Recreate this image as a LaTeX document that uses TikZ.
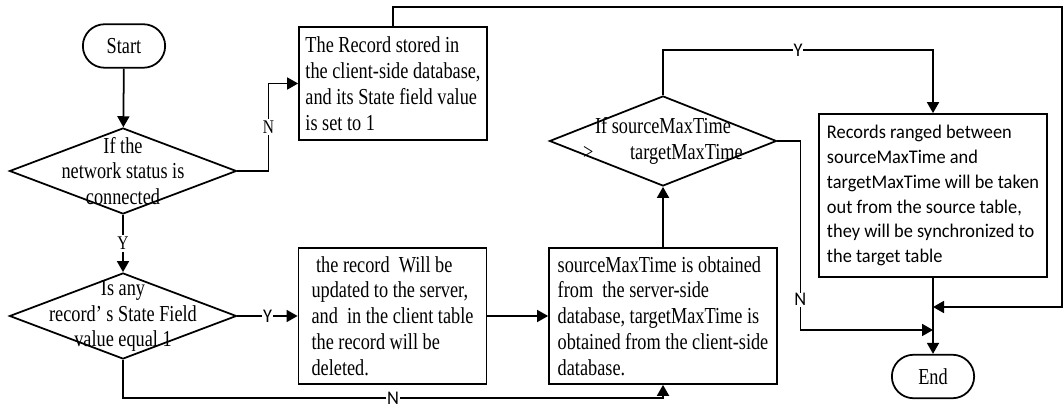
\documentclass[tikz,border=0pt]{standalone}
\usepackage{fontspec}
\setmainfont{Liberation Serif}[FakeStretch=0.8]
\newfontfamily\labelfont{Carlito}[FakeStretch=0.95]
\usepackage{tikz}
\usetikzlibrary{shapes.geometric,shapes.misc,arrows.meta}

\newcommand{\flowfont}{\fontsize{13}{14.7}\selectfont}
\newcommand{\notefont}{\labelfont\fontsize{11}{14.2}\selectfont}

\tikzset{
    terminal/.style={draw, line width=1pt, rounded rectangle, minimum width=18.8mm, minimum height=8.7mm, font=\flowfont},
    process/.style={draw, line width=1pt, rectangle, inner sep=0.6mm, align=left, font=\flowfont},
    decision/.style={draw, line width=1pt, diamond, minimum width=45.4mm, minimum height=17.2mm, inner sep=0pt},
    dtext/.style={align=center, inner sep=0pt, font=\flowfont},
    yn/.style={fill=white, inner sep=1pt, font=\fontsize{11}{12}\selectfont},
    yns/.style={fill=white, inner sep=0.5pt, font=\labelfont\fontsize{11}{12}\selectfont},
    flow/.style={line width=1pt, -{Triangle[length=2.2mm,width=2.4mm]}}
}

\begin{document}
\begin{tikzpicture}[x=0.2mm, y=-0.2mm]
    % Frame of the page (pixel grid, y pointing down):
    \useasboundingbox (0,0) rectangle (1064,411);

    % Left column: start and the two questions
    \node [terminal] (start) at (124,46) {Start};
    \node [decision, label={[dtext]center:{If the\\network status is\\connected}}] (net) at (123,171) {};
    \node [decision, label={[dtext]center:{Is any\\record’ s State Field\\value equal 1}}] (any) at (123,316) {};

    % Middle column: the boxes (lines broken by hand, so no text width)
    \node [process, minimum width=37.6mm, minimum height=22.6mm] (store) at (393,83.5)
        {The Record stored in\\the client-side database,\\and its State field value\\is set to 1};
    \node [process, minimum width=37.6mm, minimum height=27.2mm] (update) at (392.5,316)
        {\ the record\ \ Will be\\updated to the server,\\and\ \ in the client table\\the record will be\\deleted.};
    \node [process, minimum width=45.6mm, minimum height=27.2mm] (obtain) at (663,316)
        {sourceMaxTime is obtained\\from\ \ the server-side\\database, targetMaxTime is\\obtained from the client-side\\database.};
    \node [decision, minimum height=18mm, label={[dtext]center:{If sourceMaxTime\\>\hspace{1.6em}targetMaxTime}}] (cmp) at (663,141) {};

    % Right column: synchronisation and end
    \node [process, font=\notefont, minimum width=45.6mm, minimum height=32.6mm] (sync) at (933,195.5)
        {Records ranged between\\sourceMaxTime and\\targetMaxTime will be taken\\out from the source table,\\they will be synchronized to\\the target table};
    \node [terminal] (end) at (933,376.5) {End};

    % Points where the lines meet the path to End
    \coordinate (loop) at (1062,7);
    \coordinate (joinL) at (933,307);
    \coordinate (joinN) at (933,330);

    % Connectors:
    \begin{scope}[flow]
        \draw (start) -- (net);
        \draw (net.east) -- ++(31,0) |- node [yn, pos=0.25] {N} (store.west);
        \draw (net.south) -- node [yn] {Y} (any.north);
        \draw (any.east) -- node [yns] {Y} (update.west);
        \draw (any.south) -- ++(0,38) -| node [yns, pos=0.25] {N} (obtain.south);
        \draw (update) -- (obtain);
        \draw (obtain) -- (cmp);
        \draw (cmp.north) -- ++(0,-45) -| node [yns, pos=0.25] {Y} (sync.north);
        \draw (cmp.east) -- ++(23,0) |- node [yns, pos=0.42] {N} (joinN);
        \draw (sync) -- (end);
        \draw (store.north) |- (loop) |- (joinL);
    \end{scope}
\end{tikzpicture}
\end{document}
